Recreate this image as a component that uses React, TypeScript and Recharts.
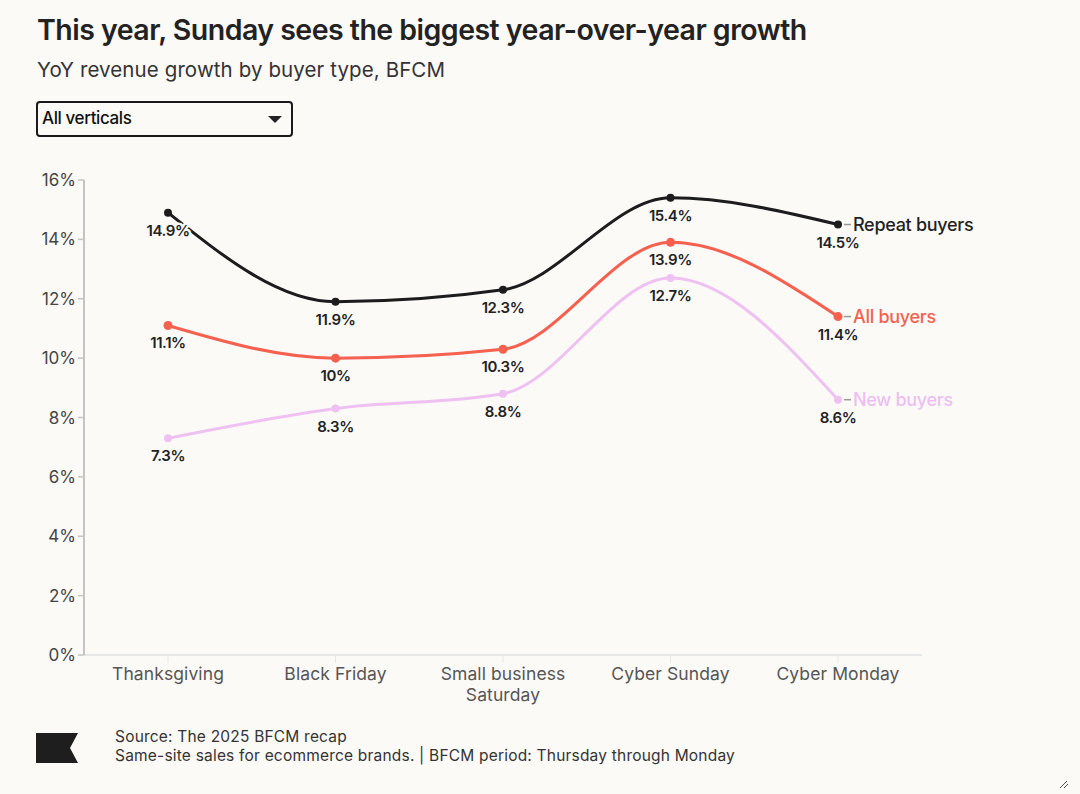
import React from "react";
import { LineChart, Line, XAxis, YAxis, LabelList } from "recharts";

const BG = "#fcfaf7";
const FONT = "Inter, 'Noto Sans', sans-serif";

// Categories and series
const days = ["Thanksgiving", "Black Friday", "Small business Saturday", "Cyber Sunday", "Cyber Monday"];
const repeatBuyers = [14.9, 11.9, 12.3, 15.4, 14.5];
const allBuyers = [11.1, 10, 10.3, 13.9, 11.4];
const newBuyers = [7.3, 8.3, 8.8, 12.7, 8.6];
const yTicks = [0, 2, 4, 6, 8, 10, 12, 14, 16];

const data = days.map((day, i) => ({
  day,
  repeat: repeatBuyers[i],
  all: allBuyers[i],
  fresh: newBuyers[i],
}));

const tickLines: Record<string, string[]> = {
  "Small business Saturday": ["Small business", "Saturday"],
};

function XTick(props: any) {
  const { x, y, payload } = props;
  const lines = tickLines[payload.value] || [payload.value];
  return (
    <text x={x} y={y} textAnchor="middle" fill="#555" fontSize={17.5} fontFamily={FONT} letterSpacing={0.1}>
      {lines.map((l, i) => (
        <tspan key={i} x={x} dy={i === 0 ? 15 : 21}>
          {l}
        </tspan>
      ))}
    </text>
  );
}

function ValueLabel(props: any) {
  const { x, y, value } = props;
  return (
    <text
      x={x}
      y={y + 23}
      textAnchor="middle"
      fontSize={15}
      fontWeight={600}
      fontFamily={FONT}
      fill="#222"
      stroke={BG}
      strokeWidth={5}
      paintOrder="stroke"
      letterSpacing={-0.4}
    >
      {`${value}%`}
    </text>
  );
}

function endLabel(name: string, color: string) {
  return (props: any) => {
    const { x, y, index } = props;
    if (index !== days.length - 1) return null;
    return (
      <g>
        <line x1={x + 6} x2={x + 13} y1={y} y2={y} stroke="#999" strokeWidth={1.5} />
        <text
          x={x + 15}
          y={y + 6}
          fontSize={18}
          fontWeight={500}
          fontFamily={FONT}
          fill={color}
          letterSpacing={-0.3}
        >
          {name}
        </text>
      </g>
    );
  };
}

function Flag() {
  return (
    <svg width={44} height={30} style={{ position: "absolute", left: 36, top: 733 }}>
      <polygon points="0,0 42,0 34,15 42,30 0,30" fill="#1e1e1e" />
    </svg>
  );
}

export default function App() {
  return (
    <div
      style={{
        position: "absolute",
        left: 0,
        top: 0,
        width: 1080,
        height: 794,
        background: BG,
        fontFamily: FONT,
        color: "#222",
        overflow: "hidden",
      }}
    >
      <div
        style={{
          position: "absolute",
          left: 37,
          top: 12,
          fontSize: 28.5,
          fontWeight: 600,
          letterSpacing: -0.52,
          color: "#222",
          whiteSpace: "nowrap",
        }}
      >
        This year, Sunday sees the biggest year-over-year growth
      </div>
      <div
        style={{
          position: "absolute",
          left: 37,
          top: 57,
          fontSize: 20.5,
          color: "#333",
          letterSpacing: 0.1,
          whiteSpace: "nowrap",
        }}
      >
        YoY revenue growth by buyer type, BFCM
      </div>
      <div
        style={{
          position: "absolute",
          left: 36,
          top: 101,
          width: 253,
          height: 32,
          border: "2px solid #1a1a1a",
          borderRadius: 4,
          boxSizing: "content-box",
          background: BG,
        }}
      >
        <span
          style={{
            position: "absolute",
            left: 4,
            top: 5,
            fontSize: 17,
            fontWeight: 500,
            letterSpacing: -0.4,
            color: "#111",
          }}
        >
          All verticals
        </span>
        <svg width={14} height={8} style={{ position: "absolute", right: 9, top: 13 }}>
          <polygon points="0,0 14,0 7,7" fill="#222" />
        </svg>
      </div>

      <div style={{ position: "absolute", left: 0, top: 0 }}>
        <LineChart
          width={1080}
          height={720}
          data={data}
          margin={{ top: 180, right: 158, bottom: 0, left: 0 }}
        >
          <XAxis
            dataKey="day"
            padding={{ left: 84, right: 84 }}
            axisLine={{ stroke: "#e8e8e6", strokeWidth: 2 }}
            tickLine={{ stroke: "#e8e8e6", strokeWidth: 1 }}
            tickSize={8}
            tick={<XTick />}
            interval={0}
            height={65}
          />
          <YAxis
            domain={[0, 16]}
            ticks={yTicks}
            width={84}
            axisLine={{ stroke: "#c4c4c4", strokeWidth: 2 }}
            tickLine={{ stroke: "#c4c4c4", strokeWidth: 1.5 }}
            tickSize={6}
            tickFormatter={(v) => `${v}%`}
            tick={{ fill: "#444", fontSize: 17, fontFamily: FONT }}
          />
          <Line
            type="monotone"
            dataKey="fresh"
            stroke="#efc1f2"
            strokeWidth={3}
            dot={{ r: 4, fill: "#efc1f2", stroke: "none" }}
            activeDot={false}
            isAnimationActive={false}
          >
            <LabelList dataKey="fresh" content={<ValueLabel />} />
            <LabelList dataKey="fresh" content={endLabel("New buyers", "#eebef1")} />
          </Line>
          <Line
            type="monotone"
            dataKey="all"
            stroke="#f5604f"
            strokeWidth={3}
            dot={{ r: 4.5, fill: "#f5604f", stroke: "none" }}
            activeDot={false}
            isAnimationActive={false}
          >
            <LabelList dataKey="all" content={<ValueLabel />} />
            <LabelList dataKey="all" content={endLabel("All buyers", "#f5604f")} />
          </Line>
          <Line
            type="monotone"
            dataKey="repeat"
            stroke="#1c1c1c"
            strokeWidth={3}
            dot={{ r: 4, fill: "#1c1c1c", stroke: "none" }}
            activeDot={false}
            isAnimationActive={false}
          >
            <LabelList dataKey="repeat" content={<ValueLabel />} />
            <LabelList dataKey="repeat" content={endLabel("Repeat buyers", "#222")} />
          </Line>
        </LineChart>
      </div>

      <Flag />
      <div
        style={{
          position: "absolute",
          left: 115,
          top: 727,
          fontSize: 15.5,
          lineHeight: "19px",
          color: "#333",
          letterSpacing: 0.2,
          whiteSpace: "nowrap",
        }}
      >
        <div>Source: The 2025 BFCM recap</div>
        <div>Same-site sales for ecommerce brands. | BFCM period: Thursday through Monday</div>
      </div>
      <svg width={12} height={12} style={{ position: "absolute", left: 1058, top: 778 }}>
        <line x1={2} y1={10} x2={9} y2={3} stroke="#555" strokeWidth={1} />
        <line x1={6} y1={10} x2={10} y2={6} stroke="#555" strokeWidth={1} />
      </svg>
    </div>
  );
}
